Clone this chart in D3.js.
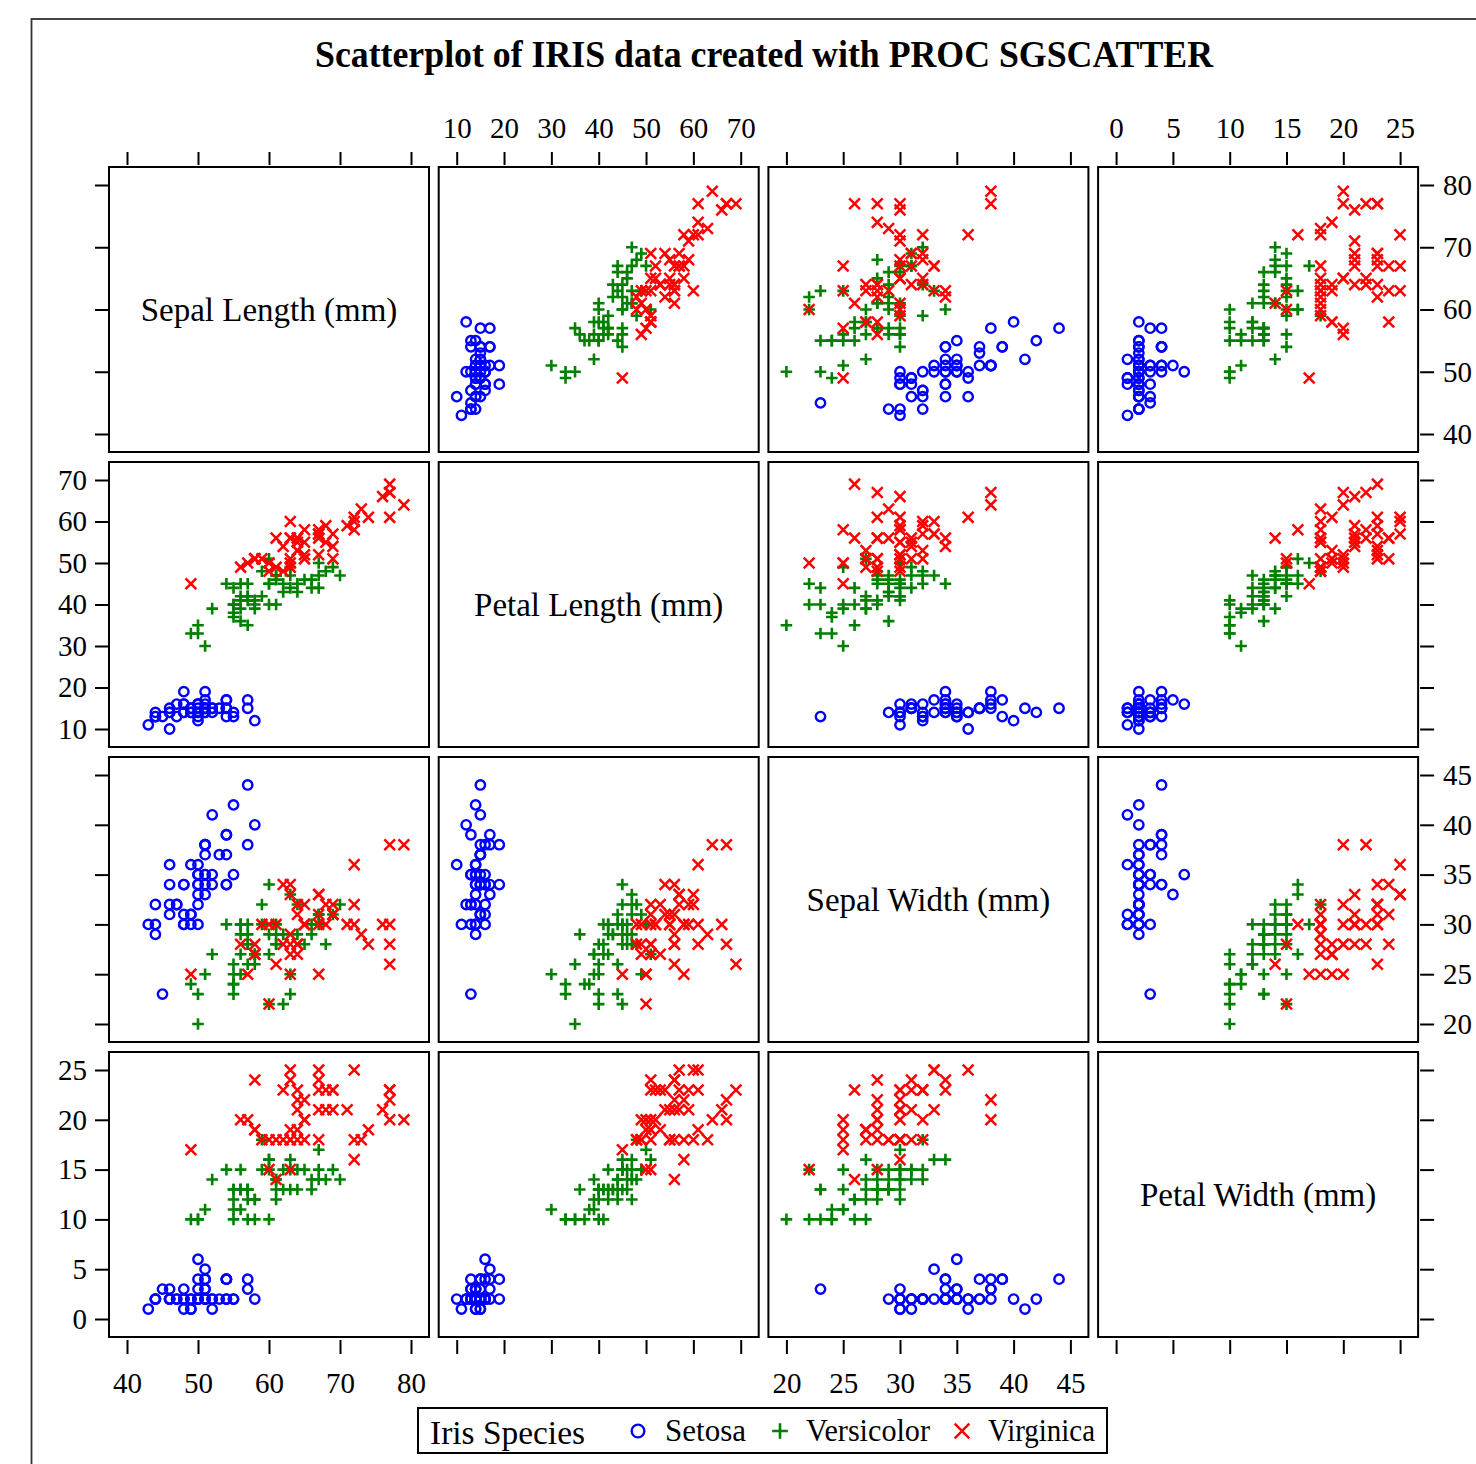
<!DOCTYPE html>
<html>
<head>
<meta charset="utf-8">
<script src="https://cdn.jsdelivr.net/npm/d3@7"></script>
<style>
  body { margin: 0; background: #fff; }
  svg { display: block; }
  text { font-family: "Liberation Serif", "Times New Roman", serif; fill: #000; }
</style>
</head>
<body>
<svg id="chart" width="1476" height="1464"></svg>
<script>
// ---- DATA (mm): [sepalLength, sepalWidth, petalLength, petalWidth] ----
const setosa = [
[51,35,14,2],[49,30,14,2],[47,32,13,2],[46,31,15,2],[50,36,14,2],[54,39,17,4],[46,34,14,3],[50,34,15,2],[44,29,14,2],[49,31,15,1],
[54,37,15,2],[48,34,16,2],[48,30,14,1],[43,30,11,1],[58,40,12,2],[57,44,15,4],[54,39,13,4],[51,35,14,3],[57,38,17,3],[51,38,15,3],
[54,34,17,2],[51,37,15,4],[46,36,10,2],[51,33,17,5],[48,34,19,2],[50,30,16,2],[50,34,16,4],[52,35,15,2],[52,34,14,2],[47,32,16,2],
[48,31,16,2],[54,34,15,4],[52,41,15,1],[55,42,14,2],[49,31,15,2],[50,32,12,2],[55,35,13,2],[49,36,14,1],[44,30,13,2],[51,34,15,2],
[50,35,13,3],[45,23,13,3],[44,32,13,2],[50,35,16,6],[51,38,19,4],[48,30,14,3],[51,38,16,2],[46,32,14,2],[53,37,15,2],[50,33,14,2]
];
const versicolor = [
[70,32,47,14],[64,32,45,15],[69,31,49,15],[55,23,40,13],[65,28,46,15],[57,28,45,13],[63,33,47,16],[49,24,33,10],[66,29,46,13],[52,27,39,14],
[50,20,35,10],[59,30,42,15],[60,22,40,10],[61,29,47,14],[56,29,36,13],[67,31,44,14],[56,30,45,15],[58,27,41,10],[62,22,45,15],[56,25,39,11],
[59,32,48,18],[61,28,40,13],[63,25,49,15],[61,28,47,12],[64,29,43,13],[66,30,44,14],[68,28,48,14],[67,30,50,17],[60,29,45,15],[57,26,35,10],
[55,24,38,11],[55,24,37,10],[58,27,39,12],[60,27,51,16],[54,30,45,15],[60,34,45,16],[67,31,47,15],[63,23,44,13],[56,30,41,13],[55,25,40,13],
[55,26,44,12],[61,30,46,14],[58,26,40,12],[50,23,33,10],[56,27,42,13],[57,30,42,12],[57,29,42,13],[62,29,43,13],[51,25,30,11],[57,28,41,13]
];
const virginica = [
[63,33,60,25],[58,27,51,19],[71,30,59,21],[63,29,56,18],[65,30,58,22],[76,30,66,21],[49,25,45,17],[73,29,63,18],[67,25,58,18],[72,36,61,25],
[65,32,51,20],[64,27,53,19],[68,30,55,21],[57,25,50,20],[58,28,51,24],[64,32,53,23],[65,30,55,18],[77,38,67,22],[77,26,69,23],[60,22,50,15],
[69,32,57,23],[56,28,49,20],[77,28,67,20],[63,27,49,18],[67,33,57,21],[72,32,60,18],[62,28,48,18],[61,30,49,18],[64,28,56,21],[72,30,58,16],
[74,28,61,19],[79,38,64,20],[64,28,56,22],[63,28,51,15],[61,26,56,14],[77,30,61,23],[63,34,56,24],[64,31,55,18],[60,30,48,18],[69,31,54,21],
[67,31,56,24],[69,31,51,23],[58,27,51,19],[68,32,59,23],[67,33,57,25],[67,30,52,23],[63,25,50,19],[65,30,52,20],[62,34,54,23],[59,30,51,18]
];

const speciesNames = ["Setosa", "Versicolor", "Virginica"];
const speciesColors = ["#0000ff", "#008000", "#ff0000"];

// matrix variable order and their data column index
const varLabels = ["Sepal Length (mm)", "Petal Length (mm)", "Sepal Width (mm)", "Petal Width (mm)"];
const varColumn = [0, 2, 1, 3];
const varTicks = [
  [40, 50, 60, 70, 80],
  [10, 20, 30, 40, 50, 60, 70],
  [20, 25, 30, 35, 40, 45],
  [0, 5, 10, 15, 20, 25]
];

const title = "Scatterplot of IRIS data created with PROC SGSCATTER";
const legendTitle = "Iris Species";

// ---- LAYOUT ----
const svg = d3.select("#chart");
const left0 = 109, colStep = 329.7, panelW = 320;
const top0 = 167, rowStep = 295, panelH = 285;
const pad = 18;
const tickFont = 29;
const serif = "'Liberation Serif', 'Times New Roman', serif";

// outer frame
svg.append("rect").attr("x", 31.5).attr("y", 19).attr("width", 2000).attr("height", 2000)
  .attr("fill", "none").attr("stroke", "#333").attr("stroke-width", 1.8);

svg.append("text").attr("x", 764).attr("y", 67).attr("text-anchor", "middle")
  .attr("font-size", 38).attr("font-weight", "bold")
  .attr("textLength", 898).attr("lengthAdjust", "spacingAndGlyphs")
  .text(title);

const xScales = varTicks.map((t, j) => {
  const x0 = left0 + j * colStep;
  return d3.scaleLinear().domain([t[0], t[t.length - 1]]).range([x0 + pad, x0 + panelW - pad]);
});
const yScales = varTicks.map((t, i) => {
  const y0 = top0 + i * rowStep;
  return d3.scaleLinear().domain([t[0], t[t.length - 1]]).range([y0 + panelH - pad, y0 + pad]);
});

const symCircle = (g, c, k) => g.append("circle").attr("r", 4.7 * k).attr("fill", "none").attr("stroke", c).attr("stroke-width", 2.4);
const symPlus = (g, c, k) => g.append("path").attr("d", `M${-5.8 * k},0H${5.8 * k}M0,${-5.8 * k}V${5.8 * k}`).attr("stroke", c).attr("stroke-width", 2.6).attr("fill", "none");
const symX = (g, c, k) => g.append("path").attr("d", `M${-5.4 * k},${-5.4 * k}L${5.4 * k},${5.4 * k}M${-5.4 * k},${5.4 * k}L${5.4 * k},${-5.4 * k}`).attr("stroke", c).attr("stroke-width", 2.5).attr("fill", "none");
const symbols = [symCircle, symPlus, symX];
const groups = [setosa, versicolor, virginica];

function styleAxis(g, labelled) {
  g.attr("font-family", null).attr("font-size", null);
  g.select(".domain").remove();
  g.selectAll(".tick line").attr("stroke", "#000").attr("stroke-width", 2);
  g.selectAll(".tick text")
    .style("font-family", serif).style("font-size", tickFont + "px")
    .attr("fill", "#000");
  if (!labelled) g.selectAll(".tick text").remove();
}

for (let i = 0; i < 4; i++) {
  for (let j = 0; j < 4; j++) {
    const x0 = left0 + j * colStep, y0 = top0 + i * rowStep;
    const panel = svg.append("g");
    if (i === j) {
      panel.append("text").attr("x", x0 + panelW / 2).attr("y", y0 + panelH / 2 + 11)
        .attr("text-anchor", "middle").attr("font-size", 33).text(varLabels[i]);
    } else {
      const xs = xScales[j], ys = yScales[i];
      const cx = varColumn[j], cy = varColumn[i];
      groups.forEach((rows, s) => {
        rows.forEach(r => {
          const g = panel.append("g").attr("transform", `translate(${xs(r[cx])},${ys(r[cy])})`);
          symbols[s](g, speciesColors[s], 1);
        });
      });
    }
    panel.append("rect").attr("x", x0).attr("y", y0).attr("width", panelW).attr("height", panelH)
      .attr("fill", "none").attr("stroke", "#000").attr("stroke-width", 2);
  }
}

// top axes
for (let j = 0; j < 4; j++) {
  const g = svg.append("g").attr("transform", `translate(0,${top0 - 2})`)
    .call(d3.axisTop(xScales[j]).tickValues(varTicks[j]).tickSize(13).tickPadding(14).tickFormat(d3.format("d")));
  styleAxis(g, j === 1 || j === 3);
}
// bottom axes
for (let j = 0; j < 4; j++) {
  const g = svg.append("g").attr("transform", `translate(0,${top0 + 3 * rowStep + panelH + 3})`)
    .call(d3.axisBottom(xScales[j]).tickValues(varTicks[j]).tickSize(14).tickPadding(18).tickFormat(d3.format("d")));
  styleAxis(g, j === 0 || j === 2);
}
// left axes
for (let i = 0; i < 4; i++) {
  const g = svg.append("g").attr("transform", `translate(${left0},0)`)
    .call(d3.axisLeft(yScales[i]).tickValues(varTicks[i]).tickSize(14).tickPadding(8).tickFormat(d3.format("d")));
  styleAxis(g, i === 1 || i === 3);
}
// right axes
for (let i = 0; i < 4; i++) {
  const g = svg.append("g").attr("transform", `translate(${left0 + 3 * colStep + panelW + 2},0)`)
    .call(d3.axisRight(yScales[i]).tickValues(varTicks[i]).tickSize(14).tickPadding(9).tickFormat(d3.format("d")));
  styleAxis(g, i === 0 || i === 2);
}

// legend
const lg = svg.append("g");
lg.append("rect").attr("x", 418).attr("y", 1408).attr("width", 689).attr("height", 45)
  .attr("fill", "none").attr("stroke", "#000").attr("stroke-width", 2);
lg.append("text").attr("x", 430).attr("y", 1444).attr("font-size", 34)
  .attr("textLength", 155).attr("lengthAdjust", "spacingAndGlyphs").text(legendTitle);
const legItems = [
  { sx: 638, tx: 665, w: 81 },
  { sx: 780, tx: 806, w: 124 },
  { sx: 962, tx: 988, w: 107 }
];
legItems.forEach((it, s) => {
  const g = lg.append("g").attr("transform", `translate(${it.sx},1431)`);
  symbols[s](g, speciesColors[s], 1.35);
  lg.append("text").attr("x", it.tx).attr("y", 1441).attr("font-size", 31)
    .attr("textLength", it.w).attr("lengthAdjust", "spacingAndGlyphs").text(speciesNames[s]);
});
</script>
</body>
</html>
